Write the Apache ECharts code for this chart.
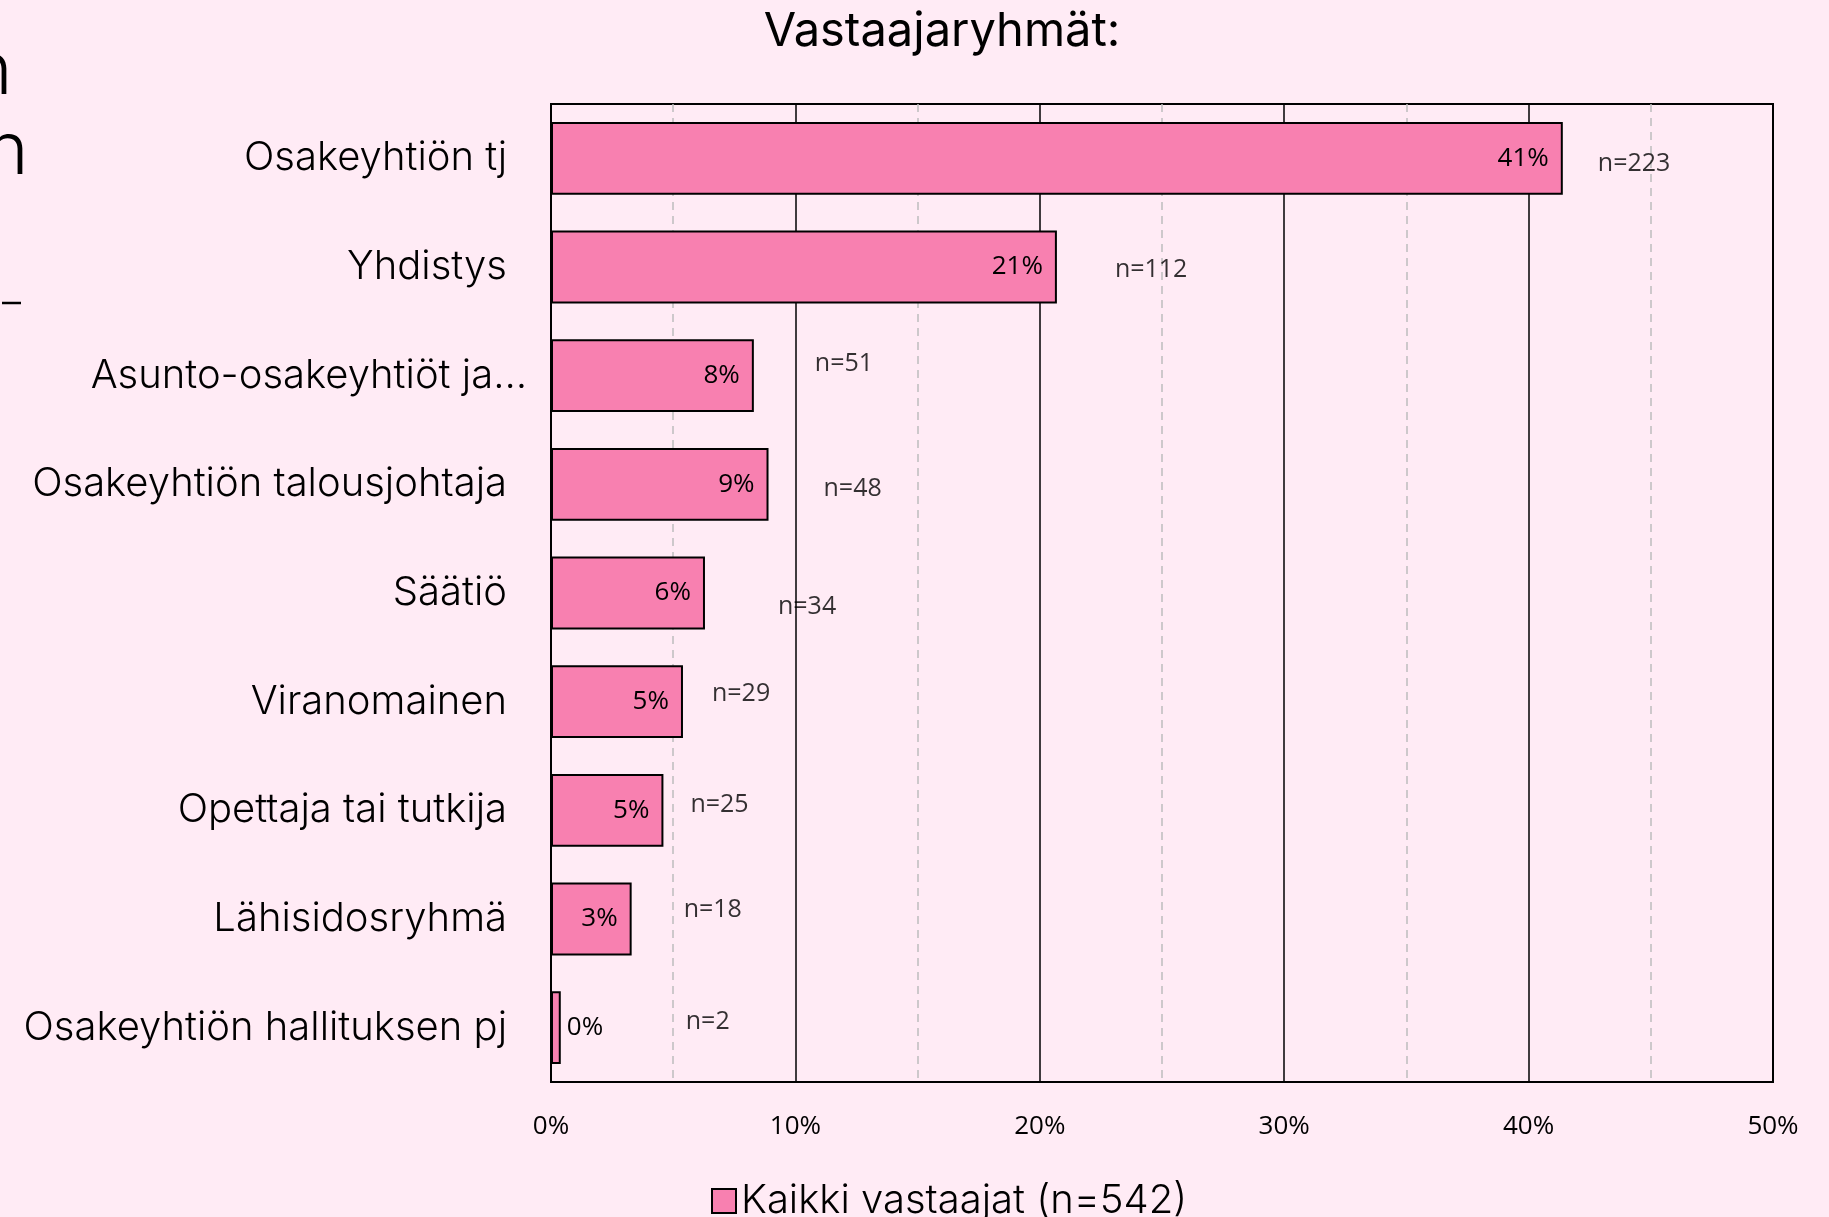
<!DOCTYPE html>
<html>
<head>
<meta charset="utf-8">
<script src="https://cdn.jsdelivr.net/npm/echarts@6/dist/echarts.min.js"></script>
<style>
  html, body { margin: 0; padding: 0; background: #ffebf5; }
  #chart { width: 1829px; height: 1217px; }
</style>
</head>
<body>
<div id="chart"></div>
<script>
// Data
const categories = [
  "Osakeyhtiön tj", "Yhdistys", "Asunto-osakeyhtiöt ja…", "Osakeyhtiön talousjohtaja",
  "Säätiö", "Viranomainen", "Opettaja tai tutkija", "Lähisidosryhmä", "Osakeyhtiön hallituksen pj"
];
const shares = [41.4, 20.7, 8.3, 8.9, 6.3, 5.4, 4.6, 3.3, 0.4];
const shareLabels = ["41%", "21%", "8%", "9%", "6%", "5%", "5%", "3%", "0%"];
const counts = [223, 112, 51, 48, 34, 29, 25, 18, 2];
const xTicks = [0, 10, 20, 30, 40, 50];
const seriesName = "Kaikki vastaajat (n=542)";

// hand-placed n= text boxes in the original, nudged from the bar end
const nLabelNudge = [[35, 6], [58, 3], [61, -12], [55, 5], [73, 14], [29, -8], [27, -5], [52, -9], [125, -6]];

const PINK = "#f880b0";
const catFont = "Inter";
const numFont = "'Open Sans', sans-serif";

const chart = echarts.init(document.getElementById("chart"));

chart.setOption({
  backgroundColor: "#ffebf5",
  animation: false,
  title: {
    text: "Vastaajaryhmät:",
    left: 937, top: 3, textAlign: "center",
    textStyle: { fontFamily: catFont, fontWeight: 400, fontSize: 47, color: "#000" }
  },
  legend: {
    data: [seriesName],
    left: 706, top: 1176,
    icon: "rect", itemWidth: 24, itemHeight: 24, itemGap: 8,
    textStyle: { fontFamily: catFont, fontWeight: 300, fontSize: 40, color: "#000" }
  },
  grid: {
    left: 551, right: 56, top: 104, bottom: 135,
    show: true, borderColor: "#000", borderWidth: 2
  },
  xAxis: {
    type: "value", min: xTicks[0], max: xTicks[xTicks.length - 1], interval: 10,
    axisLine: { show: false }, axisTick: { show: false },
    axisLabel: {
      formatter: v => xTicks.includes(v) ? v + "%" : "",
      fontFamily: numFont, fontSize: 26, color: "#000", margin: 32
    },
    splitLine: { show: true, lineStyle: { color: "#000", width: 1.5 } },
    minorTick: { show: false, splitNumber: 2 },
    minorSplitLine: { show: true, lineStyle: { color: "#bdbdbd", width: 1.5, type: [8, 6] } }
  },
  yAxis: {
    type: "category", inverse: true,
    // the truncated label sticks out past the others in the original
    data: categories.map(c => c.endsWith("…") ? { value: c, textStyle: { padding: [0, -20, 0, 0] } } : c),
    axisLine: { show: false }, axisTick: { show: false },
    axisLabel: { fontFamily: catFont, fontWeight: 300, fontSize: 40, color: "#000", margin: 44 }
  },
  series: [
    {
      name: seriesName,
      type: "bar",
      barCategoryGap: "33%",
      data: shares.map((v, i) => ({
        value: v,
        label: v < 2 ? { position: "right", distance: 6 } : undefined
      })),
      itemStyle: { color: PINK, borderColor: "#000", borderWidth: 2 },
      label: {
        show: true, position: "insideRight", distance: 14,
        formatter: p => shareLabels[p.dataIndex],
        fontFamily: numFont, fontSize: 26, color: "#000"
      }
    },
    {
      name: "n",
      type: "scatter",
      symbolSize: 0,
      silent: true,
      data: shares.map((v, i) => ({
        value: [v, i],
        label: { offset: nLabelNudge[i] }
      })),
      label: {
        show: true, position: "right", distance: 0,
        formatter: p => "n=" + counts[p.dataIndex],
        fontFamily: numFont, fontSize: 25, color: "#000"
      }
    }
  ],
  graphic: [
    // cropped slide text along the left edge
    { type: "text", left: -30, top: 36, style: { text: "n", font: "300 72px Inter", fill: "#000" } },
    { type: "text", left: -14, top: 116, style: { text: "n", font: "300 72px Inter", fill: "#000" } },
    { type: "line", shape: { x1: 2, y1: 303, x2: 21, y2: 303 }, style: { stroke: "#000", lineWidth: 2.5 } }
  ]
});
</script>
</body>
</html>
